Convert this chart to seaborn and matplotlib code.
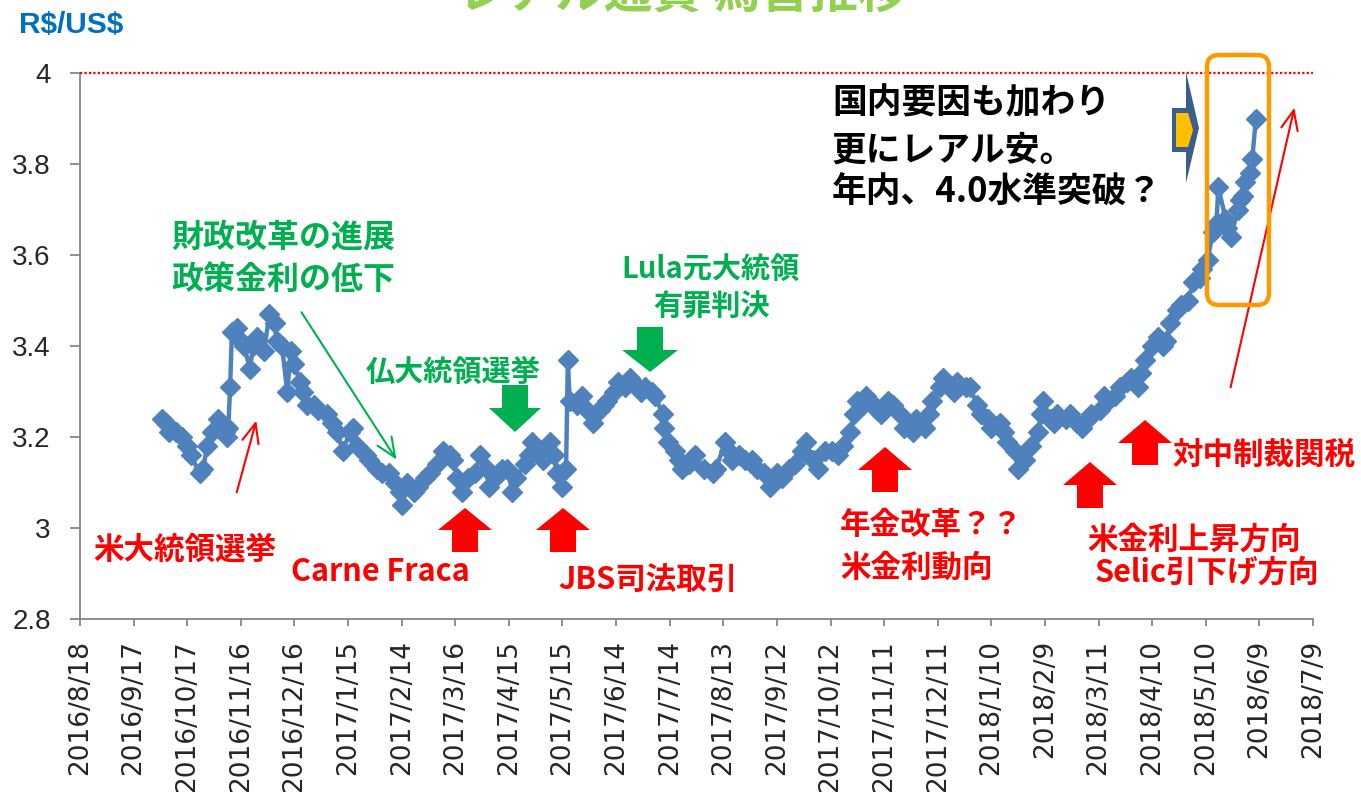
import matplotlib
matplotlib.use("Agg")
import matplotlib.pyplot as plt
from matplotlib.patches import Polygon, FancyBboxPatch, FancyArrowPatch
from matplotlib.transforms import IdentityTransform
import numpy as np
import pandas as pd
import seaborn as sns

# データ（チャートから読み取った R$/US$ レート）
dates = [
    "2016-10-03", "2016-10-05", "2016-10-07", "2016-10-11", "2016-10-14", "2016-10-17",
    "2016-10-19", "2016-10-24", "2016-10-26", "2016-10-28", "2016-10-31", "2016-11-03",
    "2016-11-07", "2016-11-08", "2016-11-09", "2016-11-10", "2016-11-11", "2016-11-14",
    "2016-11-16", "2016-11-18", "2016-11-21", "2016-11-23", "2016-11-25", "2016-11-29",
    "2016-12-02", "2016-12-05", "2016-12-06", "2016-12-09", "2016-12-12", "2016-12-14",
    "2016-12-16", "2016-12-19", "2016-12-21", "2016-12-23", "2016-12-27", "2016-12-29",
    "2017-01-03", "2017-01-06", "2017-01-09", "2017-01-12", "2017-01-16", "2017-01-18",
    "2017-01-20", "2017-01-25", "2017-01-27", "2017-01-31", "2017-02-03", "2017-02-07",
    "2017-02-10", "2017-02-13", "2017-02-14", "2017-02-17", "2017-02-21", "2017-02-23",
    "2017-02-27", "2017-03-02", "2017-03-06", "2017-03-09", "2017-03-13", "2017-03-15",
    "2017-03-17", "2017-03-20", "2017-03-23", "2017-03-27", "2017-03-30", "2017-04-03",
    "2017-04-04", "2017-04-07", "2017-04-11", "2017-04-14", "2017-04-17", "2017-04-19",
    "2017-04-24", "2017-04-26", "2017-04-28", "2017-05-02", "2017-05-04", "2017-05-08",
    "2017-05-10", "2017-05-12", "2017-05-15", "2017-05-17", "2017-05-18", "2017-05-19",
    "2017-05-23", "2017-05-26", "2017-05-29", "2017-06-01", "2017-06-05", "2017-06-07",
    "2017-06-09", "2017-06-13", "2017-06-15", "2017-06-19", "2017-06-22", "2017-06-26",
    "2017-06-28", "2017-06-30", "2017-07-04", "2017-07-06", "2017-07-10", "2017-07-11",
    "2017-07-13", "2017-07-17", "2017-07-19", "2017-07-21", "2017-07-25", "2017-07-28",
    "2017-08-02", "2017-08-07", "2017-08-09", "2017-08-14", "2017-08-16", "2017-08-18",
    "2017-08-22", "2017-08-25", "2017-08-29", "2017-09-01", "2017-09-05", "2017-09-08",
    "2017-09-12", "2017-09-15", "2017-09-19", "2017-09-22", "2017-09-26", "2017-09-28",
    "2017-10-02", "2017-10-05", "2017-10-09", "2017-10-13", "2017-10-16", "2017-10-19",
    "2017-10-23", "2017-10-25", "2017-10-27", "2017-10-30", "2017-11-01", "2017-11-03",
    "2017-11-07", "2017-11-09", "2017-11-13", "2017-11-16", "2017-11-20", "2017-11-22",
    "2017-11-27", "2017-11-29", "2017-12-04", "2017-12-06", "2017-12-08", "2017-12-12",
    "2017-12-14", "2017-12-18", "2017-12-20", "2017-12-22", "2017-12-27", "2017-12-29",
    "2018-01-02", "2018-01-04", "2018-01-08", "2018-01-10", "2018-01-15", "2018-01-17",
    "2018-01-19", "2018-01-23", "2018-01-25", "2018-01-29", "2018-02-01", "2018-02-05",
    "2018-02-07", "2018-02-08", "2018-02-12", "2018-02-14", "2018-02-16", "2018-02-21",
    "2018-02-23", "2018-02-27", "2018-03-02", "2018-03-05", "2018-03-07", "2018-03-12",
    "2018-03-14", "2018-03-16", "2018-03-20", "2018-03-23", "2018-03-27", "2018-03-29",
    "2018-04-02", "2018-04-04", "2018-04-06", "2018-04-10", "2018-04-13", "2018-04-16",
    "2018-04-18", "2018-04-20", "2018-04-24", "2018-04-26", "2018-04-30", "2018-05-03",
    "2018-05-07", "2018-05-08", "2018-05-11", "2018-05-14", "2018-05-16", "2018-05-17",
    "2018-05-21", "2018-05-22", "2018-05-24", "2018-05-28", "2018-05-29", "2018-05-31",
    "2018-06-01", "2018-06-04", "2018-06-05", "2018-06-07",
]
rates = [
    3.24, 3.23, 3.21, 3.21, 3.20, 3.18,
    3.16, 3.12, 3.13, 3.18, 3.21, 3.24,
    3.21, 3.20, 3.22, 3.31, 3.43, 3.44,
    3.41, 3.40, 3.35, 3.40, 3.42, 3.39,
    3.47, 3.45, 3.41, 3.40, 3.30, 3.39,
    3.36, 3.32, 3.30, 3.27, 3.27, 3.26,
    3.25, 3.23, 3.21, 3.17, 3.21, 3.22,
    3.18, 3.16, 3.15, 3.13, 3.12, 3.12,
    3.10, 3.08, 3.05, 3.10, 3.08, 3.09,
    3.11, 3.12, 3.14, 3.17, 3.16, 3.15,
    3.11, 3.08, 3.11, 3.12, 3.16, 3.13,
    3.09, 3.11, 3.13, 3.13, 3.08, 3.11,
    3.14, 3.16, 3.19, 3.17, 3.15, 3.19,
    3.16, 3.12, 3.09, 3.13, 3.37, 3.28,
    3.27, 3.29, 3.26, 3.23, 3.26, 3.27,
    3.28, 3.30, 3.32, 3.31, 3.33, 3.31,
    3.30, 3.31, 3.30, 3.29, 3.25, 3.22,
    3.19, 3.17, 3.15, 3.13, 3.14, 3.16,
    3.13, 3.12, 3.13, 3.19, 3.17, 3.15,
    3.16, 3.15, 3.15, 3.13, 3.12, 3.09,
    3.12, 3.11, 3.13, 3.14, 3.17, 3.19,
    3.15, 3.13, 3.17, 3.17, 3.16, 3.18,
    3.21, 3.25, 3.28, 3.27, 3.29, 3.28,
    3.26, 3.25, 3.28, 3.27, 3.25, 3.22,
    3.21, 3.24, 3.22, 3.25, 3.28, 3.31,
    3.33, 3.31, 3.30, 3.32, 3.31, 3.31,
    3.27, 3.25, 3.24, 3.22, 3.23, 3.21,
    3.19, 3.17, 3.13, 3.15, 3.18, 3.21,
    3.25, 3.28, 3.24, 3.23, 3.25, 3.24,
    3.25, 3.23, 3.22, 3.24, 3.25, 3.26,
    3.29, 3.28, 3.29, 3.31, 3.32, 3.33,
    3.31, 3.34, 3.37, 3.40, 3.42, 3.40,
    3.41, 3.45, 3.48, 3.49, 3.50, 3.54,
    3.55, 3.57, 3.59, 3.65, 3.67, 3.75,
    3.68, 3.66, 3.64, 3.70, 3.72, 3.73,
    3.76, 3.78, 3.81, 3.90,
]
x_tick_labels = [
    "2016/8/18", "2016/9/17", "2016/10/17", "2016/11/16", "2016/12/16", "2017/1/15",
    "2017/2/14", "2017/3/16", "2017/4/15", "2017/5/15", "2017/6/14", "2017/7/14",
    "2017/8/13", "2017/9/12", "2017/10/12", "2017/11/11", "2017/12/11", "2018/1/10",
    "2018/2/9", "2018/3/11", "2018/4/10", "2018/5/10", "2018/6/9", "2018/7/9",
]
y_ticks = [2.8, 3.0, 3.2, 3.4, 3.6, 3.8, 4.0]
y_tick_labels = ["2.8", "3", "3.2", "3.4", "3.6", "3.8", "4"]
target_level = 4.0

title = "レアル通貨 為替推移"
unit_label = "R$/US$"

W, H = 1361, 792
BLUE = "#4F81BD"
GREEN = "#00B050"
RED = "#FF0000"
CJK = ["Noto Sans CJK JP", "DejaVu Sans"]
NARROW = ["Liberation Sans", "DejaVu Sans"]

sns.set_style("white")
plt.rcParams["font.family"] = CJK

df = pd.DataFrame({"date": pd.to_datetime(dates), "rate": rates})
tick_dates = pd.to_datetime(x_tick_labels, format="%Y/%m/%d")

fig = plt.figure(figsize=(W / 100, H / 100), dpi=100)
ax = fig.add_axes([80 / W, 1 - 619 / H, (1313 - 80) / W, (619 - 73) / H])

sns.lineplot(data=df, x="date", y="rate", ax=ax, color=BLUE, linewidth=3.2,
             marker="D", markersize=10.5, markeredgecolor=BLUE, markeredgewidth=1)

# 4.0 の水準線（赤の点線）
ax.axhline(target_level, color=RED, linestyle=(0, (1, 1)), linewidth=1.6,
           zorder=3, clip_on=False)

ax.set_xlim(tick_dates[0], tick_dates[-1])
ax.set_ylim(y_ticks[0], y_ticks[-1])
ax.set_xticks(tick_dates)
ax.set_xticklabels(x_tick_labels, rotation=90, fontsize=19, family="DejaVu Sans")
ax.set_yticks(y_ticks)
ax.set_yticklabels(y_tick_labels, fontsize=20, family=NARROW)
ax.set_xlabel("")
ax.set_ylabel("")
for side in ["top", "right"]:
    ax.spines[side].set_visible(False)
for side in ["left", "bottom"]:
    ax.spines[side].set_color("#868686")
    ax.spines[side].set_linewidth(1.3)
ax.tick_params(axis="y", direction="out", length=7, width=1.3, color="#868686", pad=14, left=True)
ax.tick_params(axis="x", direction="out", length=5, width=1.3, color="#868686", pad=10, bottom=True)

# ---- 注記 ----
PX = IdentityTransform()


def px(x, y):
    return (x, H - y)


def label(x, y, s, size, color, ha="left", va="center"):
    fig.text(x / W, 1 - y / H, s, fontsize=size, color=color, fontweight="bold",
             family=CJK, ha=ha, va=va)


def block_arrow(cx, top, neck, bottom, hw, bw, color, up=True):
    if up:
        pts = [(cx, top), (cx + hw, neck), (cx + bw, neck), (cx + bw, bottom),
               (cx - bw, bottom), (cx - bw, neck), (cx - hw, neck)]
    else:
        pts = [(cx, bottom), (cx + hw, neck), (cx + bw, neck), (cx + bw, top),
               (cx - bw, top), (cx - bw, neck), (cx - hw, neck)]
    fig.add_artist(Polygon([px(*p) for p in pts], closed=True, transform=PX,
                           facecolor=color, edgecolor="none"))


def thin_arrow(x0, y0, x1, y1, color):
    fig.add_artist(FancyArrowPatch(px(x0, y0), px(x1, y1), transform=PX,
                                   arrowstyle="->,head_length=0.7,head_width=0.3",
                                   mutation_scale=20, color=color, linewidth=1.5))


# タイトル（上部が切れている）と単位
label(682, 8, title, 35, "#92D050", ha="center", va="baseline")
fig.text(19 / W, 1 - 25 / H, unit_label, fontsize=21.5, color="#0070C0", fontweight="bold",
         family=NARROW, ha="left", va="center", parse_math=False)

# 緑の注記
label(283, 238, "財政改革の進展", 23, GREEN, ha="center")
label(283, 280, "政策金利の低下", 23, GREEN, ha="center")
thin_arrow(300, 310, 398, 462, GREEN)
label(453, 372, "仏大統領選挙", 21, GREEN, ha="center")
block_arrow(515, 385, 408, 432, 26, 13, GREEN, up=False)
label(710, 270, "Lula元大統領", 21, GREEN, ha="center")
label(712, 307, "有罪判決", 21, GREEN, ha="center")
block_arrow(650, 327, 350, 372, 28, 13, GREEN, up=False)

# 赤の注記
label(185, 550, "米大統領選挙", 22, RED, ha="center")
thin_arrow(236, 495, 257, 418, RED)
label(380, 572, "Carne Fraca", 22, RED, ha="center")
block_arrow(465, 508, 530, 552, 27, 13, RED)
label(648, 580, "JBS司法取引", 22, RED, ha="center")
block_arrow(563, 508, 530, 552, 27, 13, RED)
label(840, 525, "年金改革？？", 22, RED)
label(840, 568, "米金利動向", 22, RED)
block_arrow(885, 447, 470, 492, 27, 13, RED)
label(1087, 540, "米金利上昇方向", 22, RED)
label(1095, 573, "Selic引下げ方向", 22, RED)
block_arrow(1090, 462, 485, 508, 27, 13, RED)
label(1172, 455, "対中制裁関税", 22, RED)
block_arrow(1145, 420, 443, 465, 27, 13, RED)
thin_arrow(1230, 390, 1295, 105, RED)

# 黒の注記
label(832, 103, "国内要因も加わり", 25, "black")
label(832, 150, "更にレアル安。", 25, "black")
label(832, 192, "年内、4.0水準突破？", 25, "black")

# 右向き矢印（青枠・黄色）
outer = [(1172, 108), (1186, 108), (1186, 72), (1199, 128), (1186, 183), (1186, 152), (1172, 152)]
inner = [(1176, 113), (1188, 113), (1193, 130), (1188, 147), (1176, 147)]
fig.add_artist(Polygon([px(*p) for p in outer], closed=True, transform=PX,
                       facecolor="#3B5E8C", edgecolor="none"))
fig.add_artist(Polygon([px(*p) for p in inner], closed=True, transform=PX,
                       facecolor="#FFC000", edgecolor="none"))

# オレンジの枠
fig.add_artist(FancyBboxPatch(px(1207, 305), 62, 250, transform=PX,
                              boxstyle="round,pad=0,rounding_size=12",
                              facecolor="none", edgecolor="#FF9900", linewidth=3.2))

fig.savefig("out.png", dpi=100)
